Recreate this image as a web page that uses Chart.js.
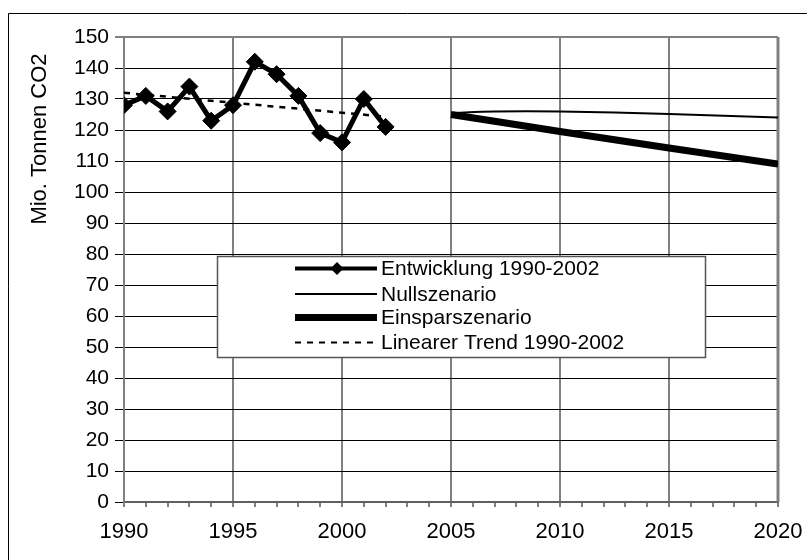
<!DOCTYPE html>
<html>
<head>
<meta charset="utf-8">
<script src="https://cdn.jsdelivr.net/npm/chart.js@4/dist/chart.umd.min.js"></script>
<style>
  html, body { margin: 0; padding: 0; background: #fff; }
  #wrap { width: 807px; height: 560px; position: relative; }
</style>
</head>
<body>
<div id="wrap"><canvas id="c" width="807" height="560"></canvas></div>
<script>
// ---- data ----
const yearsHist = [1990, 1991, 1992, 1993, 1994, 1995, 1996, 1997, 1998, 1999, 2000, 2001, 2002];
const entwicklung = [128, 131, 126, 134, 123, 128, 142, 138, 131, 119, 116, 130, 121];
const yearsScen = [2005, 2007, 2010, 2015, 2020];
const nullszenario = [125.5, 126, 126, 125.2, 124];
const einsparszenario = [125, 122.8, 119.5, 114.2, 109];
const yearsTrend = [1990, 2002];
const linearTrend = [132, 124.3];
const seriesLabels = ['Entwicklung 1990-2002', 'Nullszenario', 'Einsparszenario', 'Linearer Trend 1990-2002'];
const yAxisTitle = 'Mio. Tonnen CO2';
const xMin = 1990, xMax = 2020, yMin = 0, yMax = 150;

const pts = (xs, ys) => xs.map((x, i) => ({ x: x, y: ys[i] }));
const FONT = 'Liberation Sans, Arial, sans-serif';

const frameAndTitle = {
  id: 'frameAndTitle',
  beforeDraw(chart) {
    const ctx = chart.ctx;
    ctx.save();
    ctx.fillStyle = '#fff';
    ctx.fillRect(0, 0, chart.width, chart.height);
    ctx.strokeStyle = '#000';
    ctx.lineWidth = 1;
    ctx.beginPath();
    ctx.moveTo(8.5, 560);
    ctx.lineTo(8.5, 13.5);
    ctx.lineTo(807, 13.5);
    ctx.stroke();
    ctx.translate(40, 139);
    ctx.rotate(-Math.PI / 2);
    ctx.fillStyle = '#000';
    ctx.font = '22px ' + FONT;
    ctx.textAlign = 'center';
    ctx.textBaseline = 'middle';
    ctx.fillText(yAxisTitle, 0, 0);
    ctx.restore();
  }
};

const customLegend = {
  id: 'customLegend',
  afterDatasetsDraw(chart) {
    const ctx = chart.ctx;
    ctx.save();
    ctx.fillStyle = '#fff';
    ctx.fillRect(217.5, 256.5, 488, 101);
    ctx.strokeStyle = '#555';
    ctx.lineWidth = 1.5;
    ctx.strokeRect(217.5, 256.5, 488, 101);
    const rows = [268.5, 294, 317.5, 342.5];
    const x0 = 295, x1 = 377;
    chart.data.datasets.forEach((ds, i) => {
      const y = rows[i];
      ctx.save();
      ctx.strokeStyle = ds.borderColor;
      ctx.lineWidth = ds.legendWidth;
      ctx.setLineDash(ds.borderDash || []);
      ctx.beginPath();
      ctx.moveTo(x0, y);
      ctx.lineTo(x1, y);
      ctx.stroke();
      ctx.restore();
      if (ds.pointRadius > 0) {
        ctx.save();
        ctx.fillStyle = '#000';
        ctx.beginPath();
        const cx = (x0 + x1) / 2 + 1, r = 6.5;
        ctx.moveTo(cx, y - r);
        ctx.lineTo(cx + r, y);
        ctx.lineTo(cx, y + r);
        ctx.lineTo(cx - r, y);
        ctx.closePath();
        ctx.fill();
        ctx.restore();
      }
      ctx.fillStyle = '#000';
      ctx.font = '21px ' + FONT;
      ctx.textAlign = 'left';
      ctx.textBaseline = 'middle';
      ctx.fillText(ds.label, 381, y + 1);
    });
    ctx.restore();
  }
};

new Chart(document.getElementById('c'), {
  type: 'line',
  data: {
    datasets: [
      {
        label: seriesLabels[0],
        data: pts(yearsHist, entwicklung),
        borderColor: '#000', backgroundColor: '#000',
        borderWidth: 5, legendWidth: 4,
        pointStyle: 'rectRot', pointRadius: 8.5, pointBorderWidth: 1,
        pointBackgroundColor: '#000', pointBorderColor: '#000',
        tension: 0
      },
      {
        label: seriesLabels[1],
        data: pts(yearsScen, nullszenario),
        borderColor: '#000', borderWidth: 2, legendWidth: 2,
        pointRadius: 0, tension: 0.3
      },
      {
        label: seriesLabels[2],
        data: pts(yearsScen, einsparszenario),
        borderColor: '#000', borderWidth: 7, legendWidth: 7,
        pointRadius: 0, tension: 0
      },
      {
        label: seriesLabels[3],
        data: pts(yearsTrend, linearTrend),
        borderColor: '#000', borderWidth: 2.5, legendWidth: 2,
        borderDash: [6, 6],
        pointRadius: 0, tension: 0
      }
    ]
  },
  options: {
    responsive: false,
    animation: false,
    devicePixelRatio: 1,
    layout: { padding: { left: 0, right: 29, top: 37, bottom: 0 }, autoPadding: false },
    plugins: { legend: { display: false }, tooltip: { enabled: false } },
    scales: {
      x: {
        type: 'linear', min: xMin, max: xMax,
        afterFit(s) { s.height = 58; s.paddingLeft = 0; s.paddingRight = 0; },
        ticks: {
          stepSize: 1, autoSkip: false, maxRotation: 0,
          color: '#000', font: { family: FONT, size: 22 }, padding: 12,
          callback: (v) => (v % 5 === 0 ? String(v) : '')
        },
        grid: {
          color: (c) => (c.tick && c.tick.value % 5 === 0 ? '#808080' : 'rgba(0,0,0,0)'),
          lineWidth: 2,
          tickColor: '#000', tickLength: 5, tickWidth: 1
        },
        border: { color: '#606060', width: 2 }
      },
      y: {
        min: yMin, max: yMax,
        afterFit(s) { s.width = 124; s.paddingTop = 0; s.paddingBottom = 0; },
        ticks: {
          stepSize: 10, color: '#000', font: { family: FONT, size: 21 }, padding: 6
        },
        grid: {
          color: (c) => (c.tick && c.tick.value === yMax ? '#808080' : '#000'),
          lineWidth: (c) => (c.tick && c.tick.value === yMax ? 2 : 1),
          tickColor: '#000', tickLength: 9, tickWidth: 1
        },
        border: { color: '#808080', width: 2 }
      }
    }
  },
  plugins: [frameAndTitle, customLegend, {
    id: 'rightBorder',
    beforeDatasetsDraw(chart) {
      const a = chart.chartArea, ctx = chart.ctx;
      ctx.save();
      ctx.strokeStyle = '#808080';
      ctx.lineWidth = 3;
      ctx.beginPath();
      ctx.moveTo(a.right, a.top);
      ctx.lineTo(a.right, a.bottom);
      ctx.stroke();
      ctx.restore();
    }
  }]
});
</script>
</body>
</html>
